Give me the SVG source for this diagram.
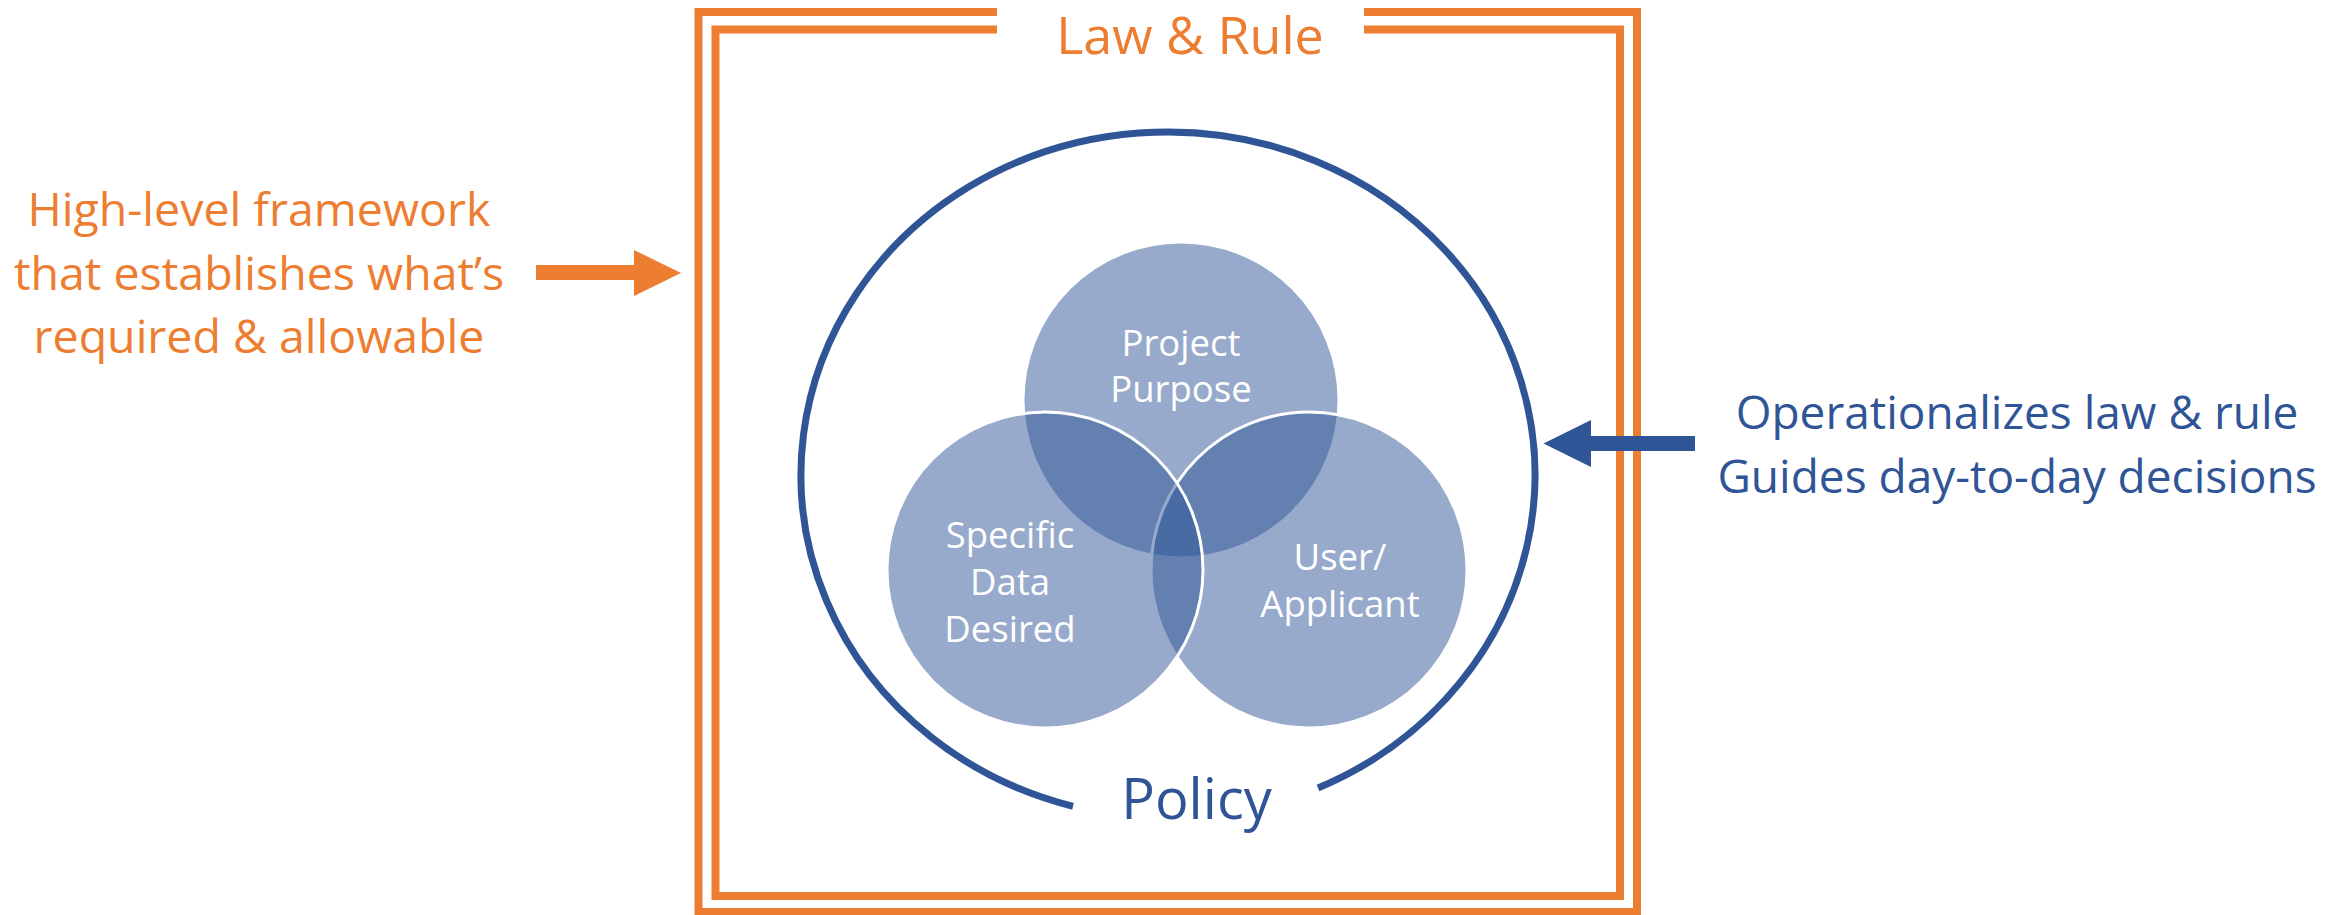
<svg xmlns="http://www.w3.org/2000/svg" width="2346" height="915" viewBox="0 0 2346 915">
<style>
.or{fill:none;stroke:#ED7D31;stroke-width:8}
.t{font-family:'Open Sans','Liberation Sans',sans-serif;text-anchor:middle}
.orT{fill:#ED7D31}
.blT{fill:#2F5597}
.wT{fill:#FFFFFF;font-size:36.5px}
.venn{fill:#2F5597;fill-opacity:0.5;stroke:#FFFFFF;stroke-width:3}
</style>
<rect width="2346" height="915" fill="#FFFFFF"/>
<g id="law-rule-frame">
<path class="or" d="M997 12 H698.5 V912 H1637 V12 H1364"/>
<path class="or" d="M997 29.5 H715.5 V896 H1620 V29.5 H1364"/>
<text class="t orT" x="1190" y="54" font-size="52">Law &amp; Rule</text>
</g>
<g id="policy">
<path d="M1073 806.3 A367 343 0 1 1 1318 788" fill="none" stroke="#2F5597" stroke-width="7"/>
<text class="t blT" x="1196.5" y="819" font-size="56">Policy</text>
</g>
<g id="venn">
<g id="project-purpose">
<circle class="venn" cx="1181" cy="400" r="158"/>
</g>
<g id="user-applicant">
<circle class="venn" cx="1309" cy="570" r="158"/>
</g>
<g id="specific-data">
<circle class="venn" cx="1045" cy="570" r="158"/>
</g>
<text class="t wT" x="1181" y="356">Project</text>
<text class="t wT" x="1181" y="402">Purpose</text>
<text class="t wT" x="1010" y="548">Specific</text>
<text class="t wT" x="1010" y="595">Data</text>
<text class="t wT" x="1010" y="642">Desired</text>
<text class="t wT" x="1340" y="570">User/</text>
<text class="t wT" x="1340" y="617">Applicant</text>
</g>
<g id="left-note">
<text class="t orT" x="259" y="226" font-size="46.5">High-level framework</text>
<text class="t orT" x="259" y="289.5" font-size="46.5">that establishes what’s</text>
<text class="t orT" x="259" y="353" font-size="46.5">required &amp; allowable</text>
</g>
<g id="right-note">
<text class="t blT" x="2017" y="429" font-size="46">Operationalizes law &amp; rule</text>
<text class="t blT" x="2017" y="493" font-size="46">Guides day-to-day decisions</text>
</g>
<g id="connectors">
<polygon fill="#ED7D31" points="536,265 634,265 634,250 681,273 634,296 634,280 536,280"/>
<polygon fill="#2F5597" points="1695,436 1591,436 1591,420 1543.5,443.5 1591,467 1591,451 1695,451"/>
</g>
</svg>
